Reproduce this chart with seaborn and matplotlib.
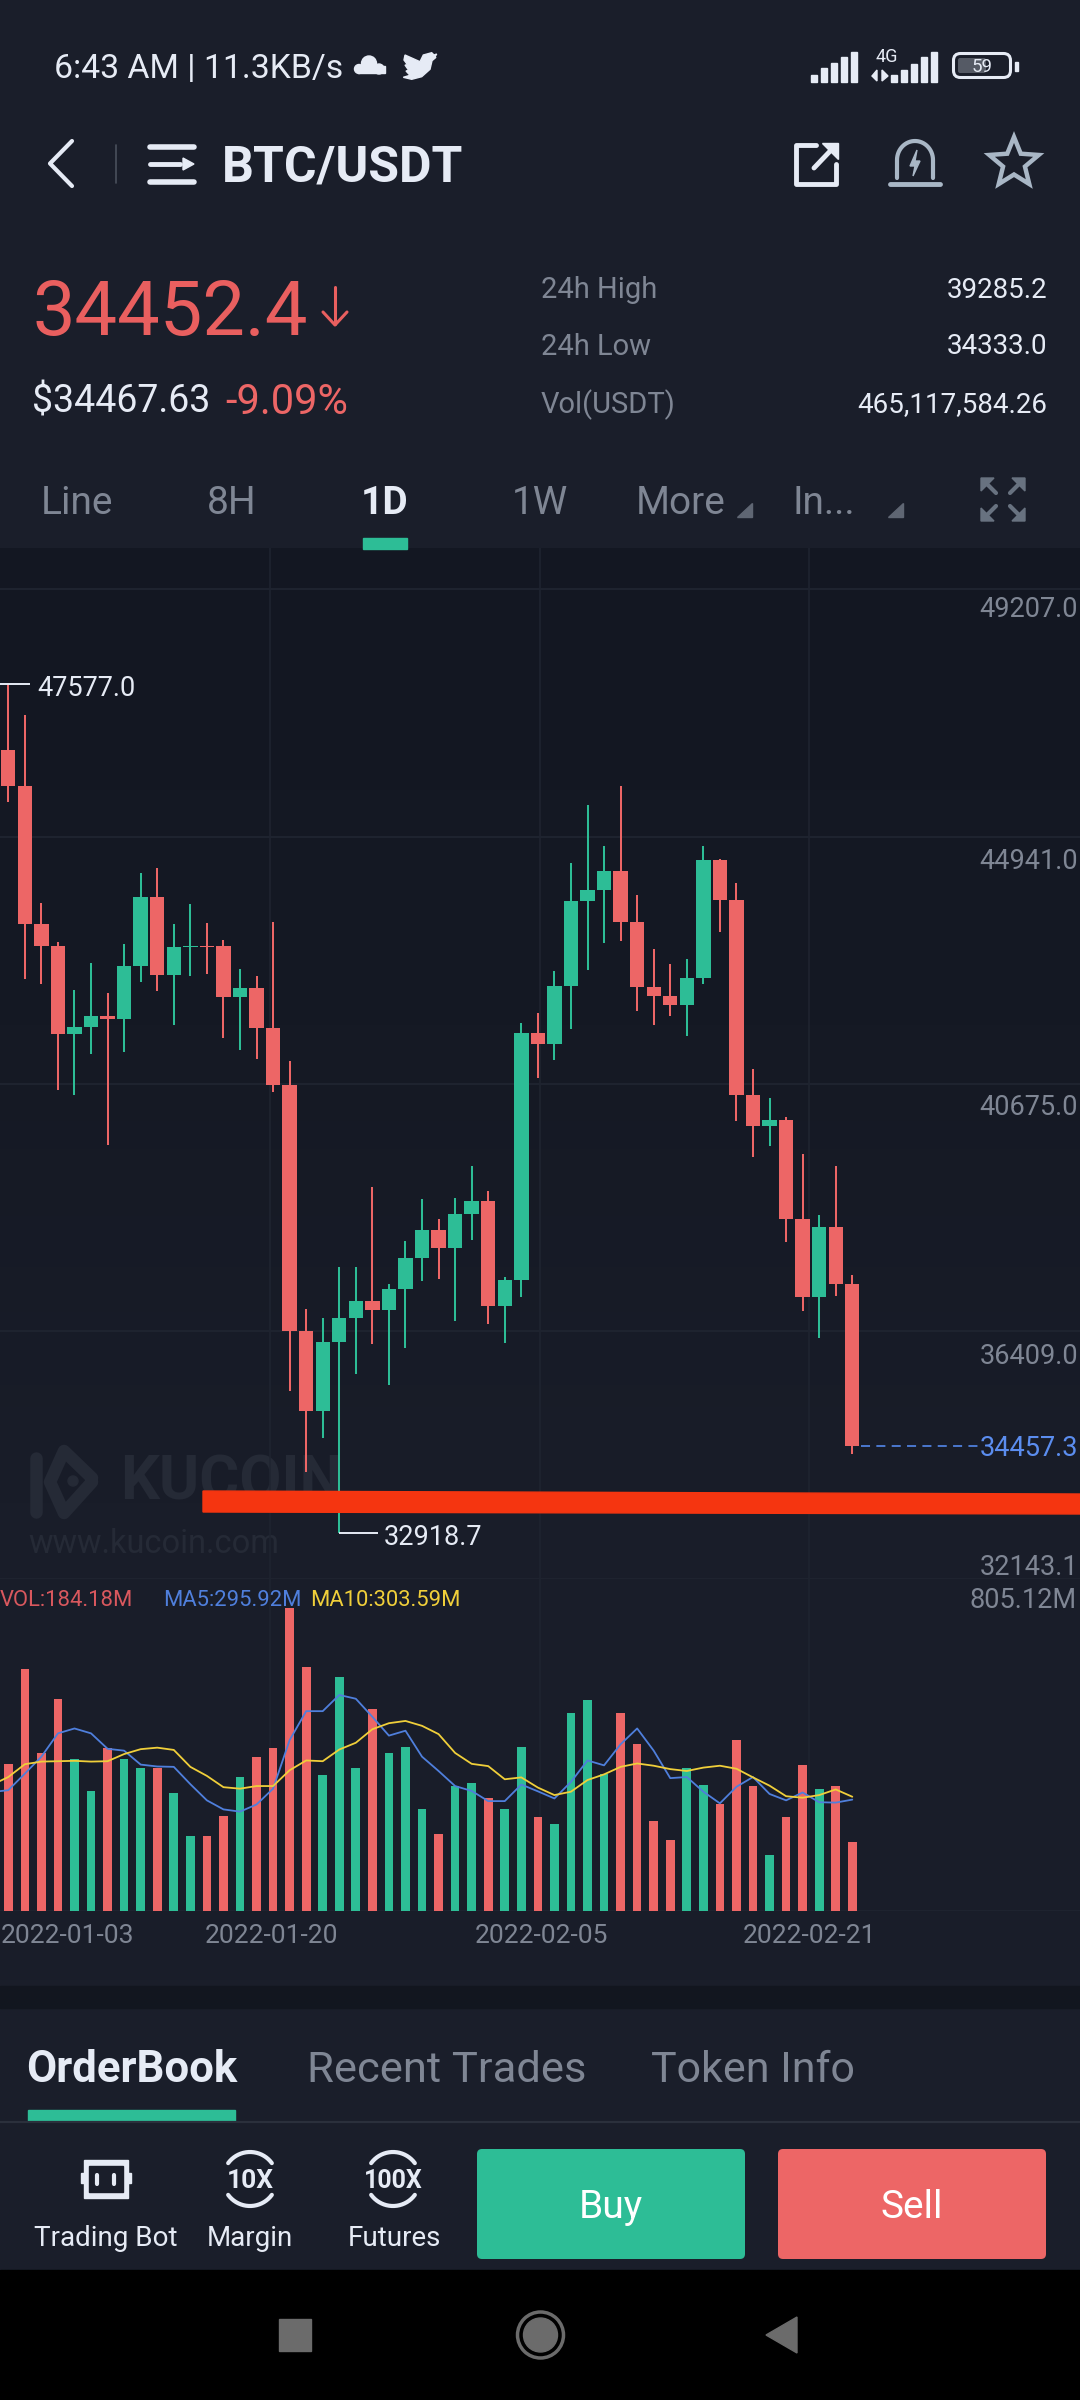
import numpy as np
import seaborn as sns
import matplotlib.pyplot as plt
from matplotlib.colors import LinearSegmentedColormap
from matplotlib.patches import Polygon, Rectangle, Circle, FancyBboxPatch

# candles (one per day)
opens = [46431, 45816, 43435, 43061, 41537, 41657, 41853, 41790, 42715, 43895, 42549, 43044, 43050,
         43055, 42175, 42325, 41640, 40656, 36417, 35025, 36215, 36635, 36923, 36779, 37130, 37677,
         38148, 37849, 38436, 38660, 36848, 37285, 41554, 41364, 42370, 43826, 44021, 44355, 43475,
         42348, 42198, 42031, 42509, 44545, 43849, 40484, 39949, 40058, 38344, 36992, 38200, 37216]
highs = [47577, 47041, 43797, 43124, 42296, 42767, 42238, 43084, 44309, 44401, 43435, 43780, 43458,
         43159, 42652, 42532, 43475, 41076, 36791, 36630, 37521, 37510, 38902, 37222, 37970, 38689,
         38338, 38700, 39258, 38827, 37343, 41732, 41893, 42629, 44481, 45482, 44781, 45816, 43941,
         43009, 42739, 42836, 44781, 44560, 44148, 40933, 40426, 40098, 39466, 38413, 39258, 37383]
lows = [45546, 42480, 42405, 40576, 40478, 41191, 39621, 41232, 42434, 42284, 41692, 42543, 42578,
        41473, 41255, 41111, 40536, 35382, 33972, 34565, 32918.7, 35669, 36181, 35479, 36124, 37274,
        37314, 36589, 37987, 36538, 36210, 36998, 40771, 41088, 41629, 42641, 43101, 43141, 41928,
        41698, 41847, 41502, 42405, 43297, 40029, 39414, 39604, 37953, 36762, 36296, 37015, 34289]
closes = [45816, 43435, 43061, 41537, 41657, 41853, 41790, 42710, 43895, 42549, 43044, 43050, 43044,
          42175, 42325, 41640, 40656, 36417, 35025, 36215, 36635, 36923, 36779, 37130, 37677, 38148,
          37849, 38436, 38660, 36848, 37285, 41554, 41364, 42370, 43826, 44021, 44355, 43475, 42348,
          42198, 42031, 42509, 44545, 43849, 40484, 39949, 40052, 38344, 36992, 38200, 37216, 34430]

# volume in millions
volume = [390, 642, 421, 564, 404, 319, 434, 403, 379, 381, 314, 198, 198, 253, 356, 408, 432, 805.12,
          649, 362, 622, 379, 537, 421, 436, 270, 204, 332, 341, 301, 270, 435, 250, 230, 525, 561,
          364, 527, 445, 239, 188, 381, 336, 283, 454, 331, 149, 250, 388, 324, 331, 184.18]
# first value of each MA is the day just off the left edge
ma5 = [316, 321, 365, 410, 472, 485, 472, 431, 426, 389, 384, 383, 337, 294, 270, 264, 283, 325, 454,
       531, 531, 574, 564, 516, 466, 479, 410, 372, 332, 319, 292, 292, 336, 318, 299, 343, 400, 387,
       443, 485, 426, 353, 356, 317, 286, 330, 356, 311, 294, 315, 289, 288, 295.92]
ma10 = [335, 356, 390, 397, 398, 399, 397, 398, 417, 430, 434, 428, 383, 359, 329, 325, 332, 332, 374,
        400, 398, 429, 447, 483, 499, 505, 492, 470, 420, 391, 385, 350, 355, 328, 308, 317, 348, 363,
        383, 392, 386, 377, 372, 381, 386, 378, 355, 333, 305, 301, 308, 323, 303.59]

price_ticks = [49207.0, 44941.0, 40675.0, 36409.0, 32143.1]
date_labels = ["2022-01-03", "2022-01-20", "2022-02-05", "2022-02-21"]
date_grid = [15.81, 32.13, 48.4]

W, H = 1080, 2400
GREEN = "#2dbd96"
RED = "#ed6666"
GREY = "#7f8694"
LIGHT = "#e6ebf5"
PANEL = "#1a1e2a"
GRID = "#1f2430"

sns.set_theme(style="dark", rc={"figure.facecolor": PANEL, "axes.facecolor": "none"})
plt.rcParams["font.family"] = ["Roboto", "DejaVu Sans"]

fig = plt.figure(figsize=(W / 100, H / 100), dpi=100)


def px_axes(x0, y0, x1, y1, z):
    ax = fig.add_axes([x0 / W, 1 - y1 / H, (x1 - x0) / W, (y1 - y0) / H], zorder=z)
    ax.set_facecolor("none")
    return ax


# pixel layer below the charts, and one above them
ax_bg = px_axes(0, 0, W, H, 0)
ax_ui = px_axes(0, 0, W, H, 5)
cmap = LinearSegmentedColormap.from_list("chart_bg", ["#131722", "#151924", "#191d29", "#1a1e2a"])
ax_bg.imshow(np.linspace(0, 1, 256)[:, None], cmap=cmap, extent=[0, W, 1986, 548], aspect="auto")
ax_bg.add_patch(Rectangle((0, 1986), W, 22, color="#12161f"))
ax_bg.add_patch(Rectangle((0, 2270), W, 130, color="black"))
for a in (ax_bg, ax_ui):
    a.set_xlim(0, W)
    a.set_ylim(H, 0)
    a.axis("off")

# watermark
wm = "#252a36"
ax_bg.plot([36, 36], [1458, 1512], color=wm, lw=9, solid_capstyle="round")
ax_bg.plot([92, 64, 50, 64, 92], [1478, 1451, 1482, 1513, 1482], color=wm, lw=9, solid_capstyle="round")
ax_bg.add_patch(Circle((73, 1481), 5, color=wm))
ax_bg.text(120, 1482, "KUCOIN", color=wm, fontsize=44, fontweight="bold", va="center")
ax_bg.text(28, 1544, "www.kucoin.com", color=wm, fontsize=23.5, va="center")

# candles
days = np.arange(len(opens))
o, h, l, c = map(np.array, (opens, highs, lows, closes))
up = c >= o
candle_colors = np.where(up, GREEN, RED)
ax_price = px_axes(0, 548, W, 1578, 2)
ax_price.hlines(price_ticks[:-1], -1, 70, color=GRID, lw=1.4, zorder=1)
ax_price.vlines(date_grid, 30000, 52000, color=GRID, lw=1.2, zorder=1)
ax_price.vlines(days, l, h, color=candle_colors, lw=1.45, zorder=2)
ax_price.bar(days, np.maximum(np.abs(c - o), 6), bottom=np.minimum(o, c), width=0.87,
             color=candle_colors, linewidth=0, zorder=3)
ax_price.set_xlim(-0.5015, 64.76)
ax_price.set_ylim(44941 - (1578 - 836.7) * 17.257, 44941 + (836.7 - 548) * 17.257)
ax_price.axis("off")

tick_offsets = [-14.5, -18, -17, -18, 8]
for tick, off in zip(price_ticks, tick_offsets):
    ax_price.annotate(f"{tick:.1f}", (1, tick), xycoords=("axes fraction", "data"), xytext=(-1.5, off),
                      textcoords="offset points", ha="right", va="center", color=GREY, fontsize=19.5,
                      annotation_clip=False)

# high / low / last price markers
ax_price.hlines(47577, -1, 1.31, color=LIGHT, lw=1.4)
ax_price.annotate("47577.0", (1.73, 47577), xytext=(0, -3), textcoords="offset points", color=LIGHT,
                  fontsize=19.5, va="center")
ax_price.hlines(32918.7, 20, 22.35, color=LIGHT, lw=1.4)
ax_price.annotate("32918.7", (22.7, 32918.7), xytext=(0, -3), textcoords="offset points", color=LIGHT,
                  fontsize=19.5, va="center")
ax_price.hlines(34430, 51.5, 58.7, color="#4f7fdc", lw=1.3, linestyles=(0, (5, 3.5)))
ax_price.annotate("34457.3", (1, 34430), xycoords=("axes fraction", "data"), xytext=(-1.5, -2),
                  textcoords="offset points", ha="right", va="center", color="#5b8def", fontsize=19.5)

# volume pane
ax_vol = px_axes(0, 1578, W, 1911, 2)
ax_vol.hlines([0, 884.8], -1, 70, color=GRID, lw=1.4, zorder=0)
ax_vol.vlines(date_grid, 0, 884.8, color=GRID, lw=1.2, zorder=0)
sns.barplot(x=days, y=volume, hue=candle_colors, palette={GREEN: GREEN, RED: RED}, native_scale=True,
            dodge=False, width=0.525, legend=False, ax=ax_vol, saturation=1, linewidth=0, zorder=2)
ma_days = np.arange(-1, len(opens))
sns.lineplot(x=ma_days, y=ma5, color="#4f7fdc", lw=1.3, ax=ax_vol, zorder=3)
sns.lineplot(x=ma_days, y=ma10, color="#f0cf3a", lw=1.3, ax=ax_vol, zorder=4)
ax_vol.set_xlim(-0.5015, 64.76)
ax_vol.set_ylim(0, 884.8)
ax_vol.axis("off")

ax_ui.text(0, 1601, f"VOL:{volume[-1]:.2f}M", color="#d9585e", fontsize=15.8, va="center")
ax_ui.text(163, 1601, f"MA5:{ma5[-1]:.2f}M", color="#4f7fdc", fontsize=15.8, va="center")
ax_ui.text(310, 1601, f"MA10:{ma10[-1]:.2f}M", color="#f0cf3a", fontsize=15.8, va="center")
ax_ui.text(1077, 1600, "805.12M", color=GREY, fontsize=19.5, va="center", ha="right")
ax_ui.text(1, 1936, date_labels[0], color=GREY, fontsize=19, va="center")
for x, lab in zip([271, 541, 810], date_labels[1:]):
    ax_ui.text(x, 1936, lab, color=GREY, fontsize=19, va="center", ha="center")

# the hand drawn red bar on top of the chart
ax_ui.add_patch(Polygon([(203, 1491), (W, 1494), (W, 1514), (203, 1512)], color="#f53510"))

# status bar
ax_ui.text(54, 69, "6:43 AM | 11.3KB/s", color=LIGHT, fontsize=24.3, va="center")
for cx, cy, r in [(359, 69, 4.5), (369, 63.5, 7.5), (379, 69, 5)]:
    ax_ui.add_patch(Circle((cx, cy), r, color=LIGHT))
ax_ui.add_patch(Rectangle((358, 66), 27, 7, color=LIGHT))
ax_ui.add_patch(Polygon([(405, 55), (420, 61.7), (423.3, 55), (431.7, 52.7), (434, 55), (436.7, 54),
                         (434.7, 57.3), (436, 57.3), (432, 60.7), (430, 69.3), (421.7, 76.7),
                         (411.7, 79.3), (403.3, 77.3), (410, 75.3), (406, 71), (408.7, 70.3),
                         (405, 65), (407.7, 65), (404, 60)], color=LIGHT))
bar_tops = [[75, 68, 63, 57, 52], [75, 70, 64, 57, 52]]
for x0, tops in zip((811, 891), bar_tops):
    for i, top in enumerate(tops):
        ax_ui.add_patch(Rectangle((x0 + i * 10, top), 5.5, 82 - top, color=LIGHT))
ax_ui.text(887, 57, "4G", color=LIGHT, fontsize=13, va="center", ha="center")
ax_ui.add_patch(Polygon([(872, 76), (877, 70), (877, 81)], color=LIGHT))
ax_ui.add_patch(Polygon([(888, 76), (882, 70), (882, 81)], color=LIGHT))
ax_ui.add_patch(FancyBboxPatch((953.5, 53.5), 57, 24, boxstyle="round,pad=0,rounding_size=7", fc="none", ec=LIGHT, lw=2.2))
ax_ui.add_patch(FancyBboxPatch((958, 58), 28, 15, boxstyle="round,pad=0,rounding_size=2", fc="#555a65", ec="none"))
ax_ui.add_patch(Rectangle((1015, 62), 3, 9, color=LIGHT))
ax_ui.text(982, 66.5, "59", color=LIGHT, fontsize=13.5, va="center", ha="center")

# header
ax_ui.plot([72, 50, 72], [141, 163.5, 186], color=LIGHT, lw=3)
ax_ui.plot([116, 116], [145, 183], color="#4a505c", lw=1.2)
ax_ui.plot([150, 194], [147, 147], color=LIGHT, lw=4)
ax_ui.plot([150, 180], [164, 164], color=LIGHT, lw=3.5)
ax_ui.add_patch(Polygon([(183, 158), (194, 164), (183, 170)], color=LIGHT))
ax_ui.plot([150, 194], [182, 182], color=LIGHT, lw=4)
ax_ui.text(222, 168, "BTC/USDT", color=LIGHT, fontsize=36, fontweight="bold", va="center")
ax_ui.plot([816, 796, 796, 836, 836], [145, 145, 184, 184, 164], color=LIGHT, lw=3.5)
ax_ui.plot([814, 834], [168, 147], color=LIGHT, lw=3.5)
ax_ui.add_patch(Polygon([(822, 143), (838, 143), (838, 159)], color=LIGHT))
bell = "#a9b7c6"
t = np.linspace(np.pi, 0, 30)
ax_ui.plot(np.r_[897, 915 + 18 * np.cos(t), 933], np.r_[178, 160 - 19 * np.sin(t), 178], color=bell, lw=3)
ax_ui.plot([890, 940], [184, 184], color=bell, lw=3.5)
ax_ui.add_patch(Polygon([(917, 150), (910, 166), (915, 166), (913, 176), (920, 161), (915, 161)], color=bell))
sa = np.deg2rad(np.arange(0, 360, 36) - 90)
sr = np.where(np.arange(10) % 2 == 0, 26, 11.5)
ax_ui.add_patch(Polygon(np.c_[1014 + sr * np.cos(sa), 163 + sr * np.sin(sa)], fc="none", ec=bell, lw=3.2))

# price block
ax_ui.text(33, 314, "34452.4", color="#e95f5f", fontsize=54.5, va="center")
ax_ui.plot([335, 335], [287, 324], color="#e95f5f", lw=2.2)
ax_ui.plot([323, 335, 347], [312, 325, 312], color="#e95f5f", lw=2.2)
ax_ui.text(32, 402, "$34467.63", color=LIGHT, fontsize=27, va="center")
ax_ui.text(225, 402, "-9.09%", color=RED, fontsize=30, va="center")
for y, lab, val in [(290, "24h High", "39285.2"), (347, "24h Low", "34333.0"), (405, "Vol(USDT)", "465,117,584.26")]:
    ax_ui.text(541, y, lab, color=GREY, fontsize=21, va="center")
    ax_ui.text(1047, y, val, color=LIGHT, fontsize=20, va="center", ha="right")

# period tabs
for x, lab, col in [(41, "Line", GREY), (207, "8H", GREY), (512, "1W", GREY), (636, "More", GREY), (792, "In...", GREY)]:
    ax_ui.text(x, 504, lab, color=col, fontsize=28, va="center")
ax_ui.text(361, 504, "1D", color=LIGHT, fontsize=28, fontweight="bold", va="center")
for x in (737, 888):
    ax_ui.add_patch(Polygon([(x, 517), (x + 15, 517), (x + 15, 503)], color="#5f6673"))
for sx, sy in [(981, 478), (1025, 478), (981, 521), (1025, 521)]:
    dx, dy = (1 if sx < 1000 else -1), (1 if sy < 500 else -1)
    ax_ui.add_patch(Polygon([(sx, sy), (sx + 13 * dx, sy), (sx, sy + 13 * dy)], color="#687280"))
    ax_ui.plot([sx + 3 * dx, sx + 15 * dx], [sy + 3 * dy, sy + 15 * dy], color="#687280", lw=3)
ax_ui.add_patch(Rectangle((363, 538), 44, 11, color=GREEN))

# order book tabs
ax_ui.text(26, 2070, "OrderBook", color=LIGHT, fontsize=31.5, fontweight="bold", va="center")
ax_ui.text(307, 2070, "Recent Trades", color=GREY, fontsize=31.3, va="center")
ax_ui.text(651, 2070, "Token Info", color=GREY, fontsize=31, va="center")
ax_ui.add_patch(Rectangle((28, 2110), 207, 11, color=GREEN))
ax_ui.plot([0, W], [2122, 2122], color="#2b303c", lw=1.6)

# bottom toolbar
ax_ui.add_patch(Rectangle((84, 2160), 44, 38, color=LIGHT))
ax_ui.add_patch(Rectangle((89, 2166), 34, 26, color=PANEL))
ax_ui.add_patch(Rectangle((81, 2173), 3, 10, color=LIGHT))
ax_ui.add_patch(Rectangle((128, 2173), 3, 10, color=LIGHT))
for ex in (97, 114):
    ax_ui.plot([ex, ex], [2175, 2184], color=LIGHT, lw=3)
for cx, lab, size in [(250, "10X", 19), (393, "100X", 18)]:
    ax_ui.text(cx, 2181, lab, color=LIGHT, fontsize=size, fontweight="bold", va="center", ha="center")
    t = np.linspace(np.pi * 1.2, np.pi * 1.8, 20)
    ax_ui.plot(cx + 27 * np.cos(t), 2179 + 27 * np.sin(t), color=LIGHT, lw=3)
    ax_ui.plot(cx + 27 * np.cos(t), 2179 - 27 * np.sin(t), color=LIGHT, lw=3)
for cx, lab in [(106, "Trading Bot"), (250, "Margin"), (394, "Futures")]:
    ax_ui.text(cx, 2239, lab, color=LIGHT, fontsize=20, va="center", ha="center")
for x0, col, lab in [(477, GREEN, "Buy"), (778, RED, "Sell")]:
    ax_ui.add_patch(FancyBboxPatch((x0, 2149), 268, 110, boxstyle="round,pad=0,rounding_size=5", fc=col, ec="none"))
    ax_ui.text(x0 + 134, 2208, lab, color="white", fontsize=28, va="center", ha="center")

# android nav bar
nav = "#6b6b6b"
ax_ui.add_patch(Rectangle((279, 2319), 32, 32, color=nav))
ax_ui.add_patch(Circle((540.5, 2335), 23, fc="none", ec=nav, lw=2.5))
ax_ui.add_patch(Circle((540.5, 2335), 17, color=nav))
ax_ui.add_patch(Polygon([(797, 2317), (797, 2353), (766, 2335)], color=nav))

fig.savefig("out.png", dpi=100, facecolor=PANEL)
